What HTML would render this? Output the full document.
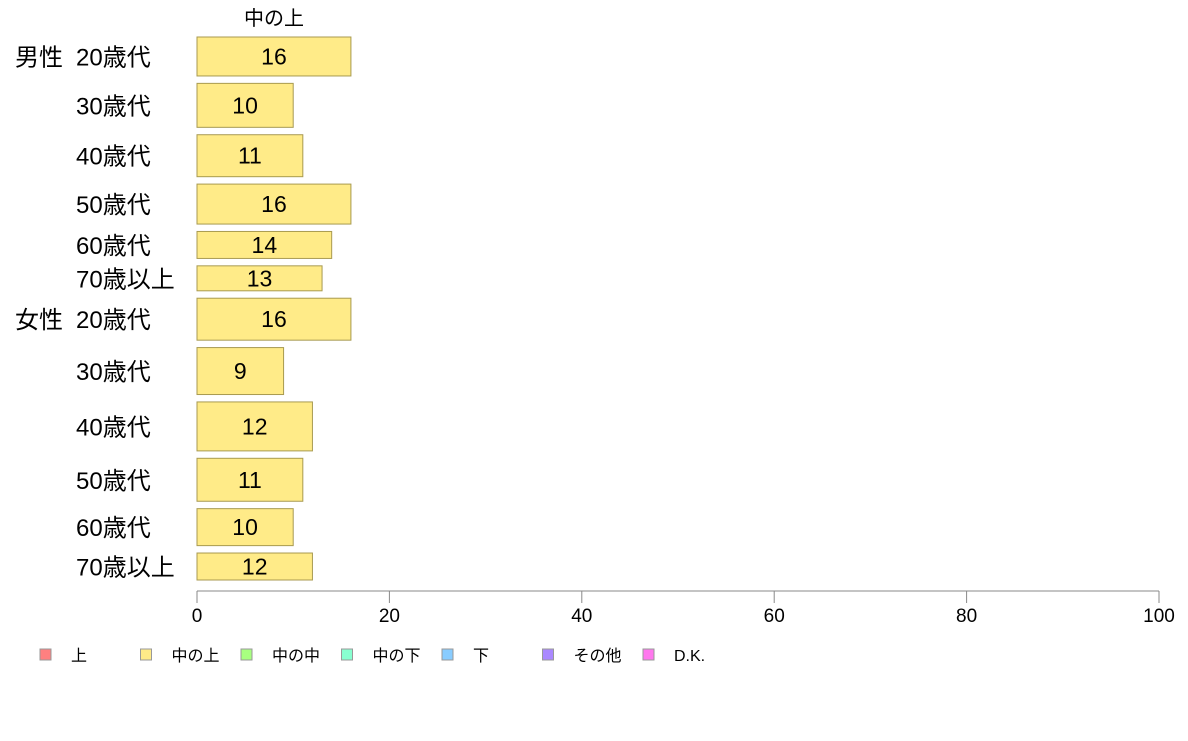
<!DOCTYPE html>
<html><head><meta charset="utf-8"><style>
body{margin:0;background:#fff;font-family:"Liberation Sans","Noto Sans CJK JP",sans-serif;}
</style></head><body>
<svg id="chart" width="1188" height="736" xmlns="http://www.w3.org/2000/svg" font-family="Liberation Sans, Noto Sans CJK JP, sans-serif"></svg>
<script>
const groups = ["男性","","","","","","女性","","","","",""];
const ages = ["20歳代","30歳代","40歳代","50歳代","60歳代","70歳以上","20歳代","30歳代","40歳代","50歳代","60歳代","70歳以上"];
const values = [16,10,11,16,14,13,16,9,12,11,10,12];
const weights = [39,44,42,40,27,25,42,47,49,43,37,27];
const ticks = [0,20,40,60,80,100];
const legendLabels = ["上","中の上","中の中","中の下","下","その他","D.K."];
const legendColors = ["#ff8080","#ffeb88","#a8ff80","#88ffd0","#88ccff","#aa88ff","#ff77ee"];

const svg = document.getElementById('chart');
const NS = "http://www.w3.org/2000/svg";
const x0 = 197, x1 = 1159, yTop = 37, yBot = 580, gap = 7.4;
const xs = v => x0 + (v / 100) * (x1 - x0);
function mk(tag, attrs, text){const e=document.createElementNS(NS,tag);for(const k in attrs)e.setAttribute(k,attrs[k]);if(text!==undefined)e.textContent=text;svg.appendChild(e);return e;}

const t = mk('text',{x:274,y:25,'font-size':20,'text-anchor':'middle',fill:'#000'},'中の上');



const totalW = weights.reduce((a,b)=>a+b,0);
const scaleH = (yBot - yTop - gap*(weights.length-1)) / totalW;
let y = yTop;
values.forEach((v,i)=>{
  const h = weights[i]*scaleH;
  const r = mk('rect',{x:x0,y:y,width:xs(v)-x0,height:h,fill:'#ffeb88',stroke:'#a89a50','stroke-width':1});
  
  
  const vl = mk('text',{x:(x0+xs(v))/2,y:y+h/2+8,'font-size':23,'text-anchor':'middle',fill:'#000'},String(v));
  
  
  const al = mk('text',{x:76,y:y+h/2+9,'font-size':24,fill:'#000'},ages[i]);
  
  
  if(groups[i]){
    const gl = mk('text',{x:15,y:y+h/2+9,'font-size':24,fill:'#000'},groups[i]);
    
    
  }
  y += h + gap;
});

const ax = mk('line',{x1:x0,y1:591,x2:x1,y2:591,stroke:'#888','stroke-width':1});


ticks.forEach(tv=>{
  const tl = mk('line',{x1:xs(tv),y1:591,x2:xs(tv),y2:603,stroke:'#888','stroke-width':1});
  
  
  const tt = mk('text',{x:xs(tv),y:622,'font-size':19,'text-anchor':'middle',fill:'#000'},String(tv));
  
  
});

legendLabels.forEach((lab,i)=>{
  const lx = 40 + i*100.5;
  const sq = mk('rect',{x:lx,y:649,width:11,height:11,fill:legendColors[i],stroke:'#999','stroke-width':1});
  
  
  const lt = mk('text',{x:lx+31,y:661,'font-size':16,fill:'#000'},lab);
  
  
});
</script>
</body></html>
